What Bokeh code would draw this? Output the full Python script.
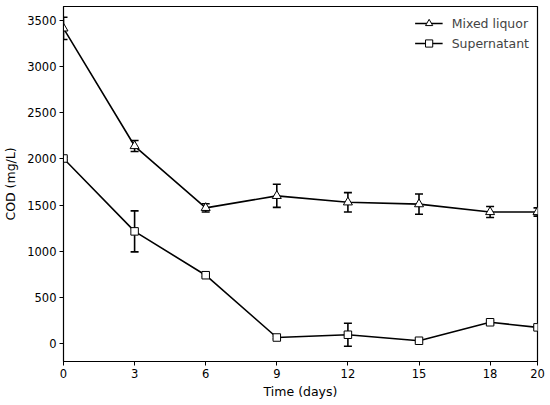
from bokeh.plotting import figure
from bokeh.models import ColumnDataSource, Whisker, TeeHead, Range1d, FixedTicker, Legend, LegendItem
from bokeh.embed import file_html
from bokeh.resources import INLINE

days = [0, 3, 6, 9, 12, 15, 18, 20]
mixed = [3415, 2140, 1470, 1600, 1530, 1510, 1425, 1425]
mixed_err = [120, 60, 45, 125, 105, 110, 60, 45]
super_ = [2005, 1215, 740, 65, 95, 30, 230, 175]
super_err = [15, 222, 15, 15, 125, 15, 20, 15]
x_ticks = [0, 3, 6, 9, 12, 15, 18, 20]
y_ticks = [0, 500, 1000, 1500, 2000, 2500, 3000, 3500]

FONT = "DejaVu Sans"

p = figure(output_backend="svg", toolbar_location=None,
           x_range=Range1d(0, 20), y_range=Range1d(-195, 3652))
p.frame_width = 474
p.frame_height = 355
p.min_border_left = 60
p.min_border_right = 9
p.min_border_top = 6
p.min_border_bottom = 36
p.grid.visible = False
p.outline_line_color = "black"
p.outline_line_width = 1.2
p.background_fill_color = "white"

for ax in (p.xaxis[0], p.yaxis[0]):
    ax.major_label_text_font = FONT
    ax.major_label_text_font_size = "11.5px"
    ax.major_label_text_color = "black"
    ax.major_label_standoff = 3
    ax.axis_label_text_font = FONT
    ax.axis_label_text_font_size = "12.5px"
    ax.axis_label_text_font_style = "normal"
    ax.axis_label_text_color = "black"
    ax.minor_tick_line_color = None
    ax.major_tick_out = 4
    ax.major_tick_in = 0
    ax.axis_line_color = "black"
    ax.major_tick_line_color = "black"
p.xaxis.ticker = FixedTicker(ticks=x_ticks)
p.yaxis.ticker = FixedTicker(ticks=y_ticks)
p.xaxis.axis_label = "Time (days)"
p.yaxis.axis_label = "COD (mg/L)"
p.xaxis.axis_label_standoff = 3
p.yaxis.axis_label_standoff = 6

def series(vals, errs, marker):
    src = ColumnDataSource(dict(x=days, y=vals,
                                lo=[v - e for v, e in zip(vals, errs)],
                                hi=[v + e for v, e in zip(vals, errs)]))
    w = Whisker(source=src, base="x", lower="lo", upper="hi",
                line_color="black", line_width=1.6,
                upper_head=TeeHead(size=8, line_color="black", line_width=1.6),
                lower_head=TeeHead(size=8, line_color="black", line_width=1.6))
    p.add_layout(w)
    l = p.line("x", "y", source=src, line_color="black", line_width=1.6)
    if marker == "triangle":
        m = p.scatter("x", "y", source=src, marker="triangle", size=9,
                      fill_color="white", line_color="black", line_width=1)
    else:
        m = p.scatter("x", "y", source=src, marker="square", size=7.5,
                      fill_color="white", line_color="black", line_width=1)
    return [l, m]

r1 = series(mixed, mixed_err, "triangle")
r2 = series(super_, super_err, "square")

leg = Legend(items=[LegendItem(label="Mixed liquor", renderers=r1),
                    LegendItem(label="Supernatant", renderers=r2)],
             location="top_right", border_line_color=None,
             background_fill_alpha=0, label_text_font=FONT,
             label_text_font_size="12.5px", glyph_width=28, glyph_height=18,
             spacing=2, padding=4, margin=8, label_standoff=9)
p.add_layout(leg)

open("out.html", "w").write(file_html(p, INLINE))
